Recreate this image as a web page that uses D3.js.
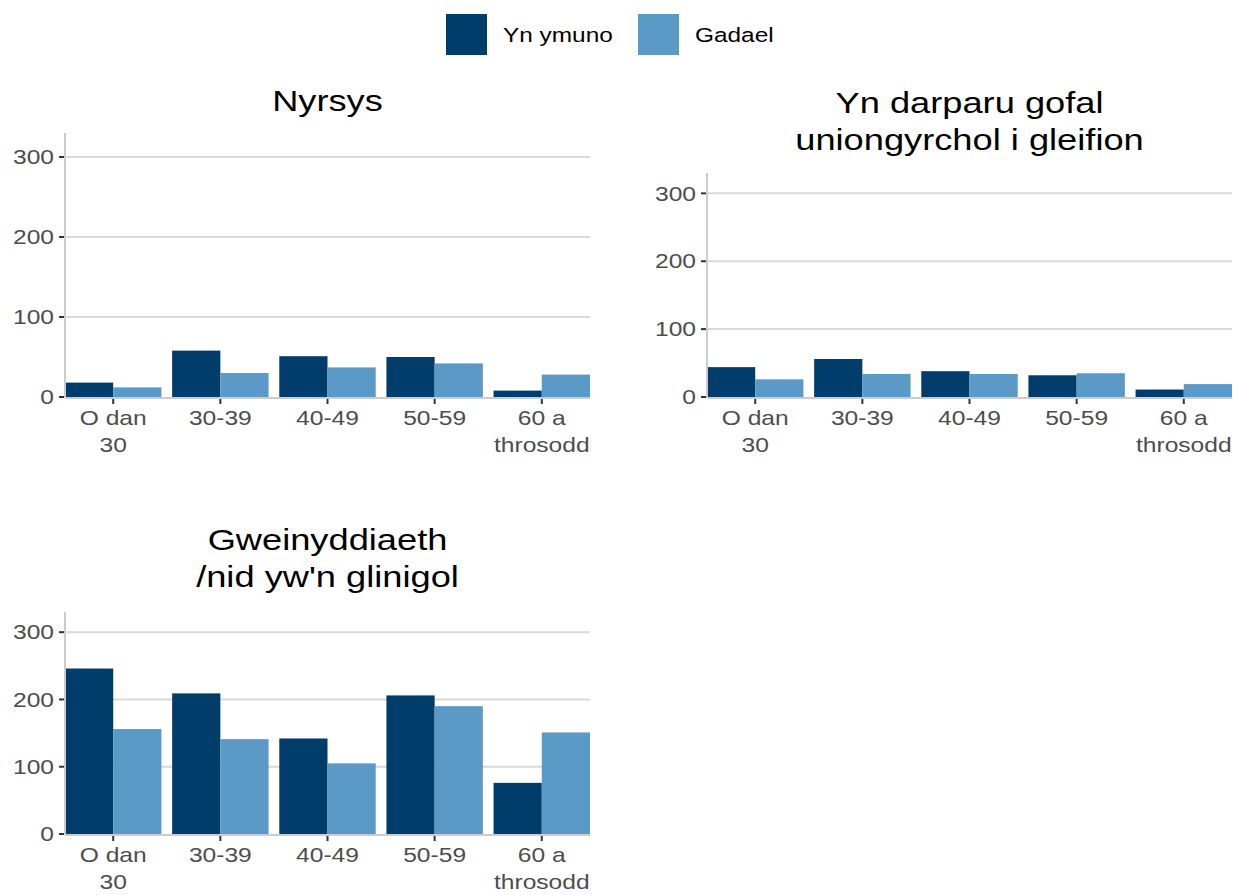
<!DOCTYPE html>
<html>
<head>
<meta charset="utf-8">
<script src="https://cdn.jsdelivr.net/npm/d3@7"></script>
<style>
  body { margin: 0; background: #fff; }
  svg { font-family: "Liberation Sans", Arial, sans-serif; }
</style>
</head>
<body>
<div id="chart"></div>
<script>
var ageGroups = ["O dan 30", "30-39", "40-49", "50-59", "60 a throsodd"];
var series = ["Yn ymuno", "Gadael"];
var colours = ["#013d6b", "#5b9ac7"];
var yTicks = [0, 100, 200, 300];

var nursesJoin = [18, 58, 51, 50, 8];
var nursesLeave = [12, 30, 37, 42, 28];
var directCareJoin = [44, 56, 38, 32, 11];
var directCareLeave = [26, 34, 34, 35, 19];
var adminJoin = [246, 209, 142, 206, 76];
var adminLeave = [156, 141, 105, 190, 151];

var panels = [
  { title: ["Nyrsys"], join: nursesJoin, leave: nursesLeave, left: 65, top: 133, bottom: 397, titleY: [101] },
  { title: ["Yn darparu gofal", "uniongyrchol i gleifion"], join: directCareJoin, leave: directCareLeave, left: 707, top: 173, bottom: 397, titleY: [103, 140] },
  { title: ["Gweinyddiaeth", "/nid yw'n glinigol"], join: adminJoin, leave: adminLeave, left: 65, top: 612, bottom: 834, titleY: [540, 577] }
];

var width = 1233, height = 895;
var plotW = 525;
var stretch = 1.2;   // text in the original is drawn a bit wide

var svg = d3.select("#chart").append("svg")
  .attr("width", width)
  .attr("height", height);

// text helper, stretched horizontally
function wideText(sel, x, y, size, sx) {
  return sel.append("text")
    .attr("transform", "translate(" + x + "," + y + ") scale(" + sx + ",1)")
    .attr("font-size", size);
}

// legend
var legend = svg.append("g").attr("transform", "translate(446,14)");
var legX = [0, 192];
series.forEach(function(s, i) {
  legend.append("rect")
    .attr("x", legX[i]).attr("y", 0)
    .attr("width", 41).attr("height", 41)
    .attr("fill", colours[i]);
  wideText(legend, legX[i] + 57, 21, 20.5, 1.19)
    .attr("dy", "0.35em")
    .attr("fill", "#000")
    .text(s);
});

panels.forEach(function(p) {
  var g = svg.append("g").attr("transform", "translate(" + p.left + ",0)");

  var x = d3.scaleBand()
    .domain(ageGroups)
    .range([0, plotW])
    .paddingInner(0.1)
    .paddingOuter(0);
  var x1 = d3.scaleBand()
    .domain(series)
    .range([0, x.bandwidth()]);
  var y = d3.scaleLinear()
    .domain([0, 330])
    .range([p.bottom, p.top]);

  // grid
  g.selectAll(".grid").data(yTicks.slice(1)).enter()
    .append("line")
    .attr("x1", 0).attr("x2", plotW)
    .attr("y1", function(d) { return y(d); })
    .attr("y2", function(d) { return y(d); })
    .attr("stroke", "#d9d9d9")
    .attr("stroke-width", 2);

  // bars
  var rows = ageGroups.map(function(a, i) {
    return { age: a, values: [p.join[i], p.leave[i]] };
  });
  var grp = g.selectAll(".grp").data(rows).enter()
    .append("g")
    .attr("transform", function(d) { return "translate(" + x(d.age) + ",0)"; });
  grp.selectAll("rect")
    .data(function(d) { return d.values.map(function(v, k) { return { s: series[k], v: v, k: k }; }); })
    .enter().append("rect")
    .attr("x", function(d) { return x1(d.s); })
    .attr("width", x1.bandwidth())
    .attr("y", function(d) { return y(d.v); })
    .attr("height", function(d) { return y(0) - y(d.v); })
    .attr("fill", function(d) { return colours[d.k]; });

  // axis lines
  g.append("line")
    .attr("x1", 0).attr("x2", 0)
    .attr("y1", p.top).attr("y2", p.bottom + 1)
    .attr("stroke", "#cccccc").attr("stroke-width", 2);
  g.append("line")
    .attr("x1", 0).attr("x2", plotW)
    .attr("y1", p.bottom + 1).attr("y2", p.bottom + 1)
    .attr("stroke", "#cccccc").attr("stroke-width", 2);

  // y ticks
  var yt = g.selectAll(".yt").data(yTicks).enter().append("g")
    .attr("transform", function(d) { return "translate(0," + y(d) + ")"; });
  yt.append("line")
    .attr("x1", -6).attr("x2", -1)
    .attr("stroke", "#333").attr("stroke-width", 2);
  yt.each(function(d) {
    wideText(d3.select(this), -11, 0, 20.5, stretch)
      .attr("dy", "0.35em")
      .attr("text-anchor", "end")
      .attr("fill", "#4d4d4d")
      .text(d);
  });

  // x ticks
  var xt = g.selectAll(".xt").data(ageGroups).enter().append("g")
    .attr("transform", function(d) { return "translate(" + (x(d) + x.bandwidth() / 2) + "," + (p.bottom + 2) + ")"; });
  xt.append("line")
    .attr("y1", 0).attr("y2", 5)
    .attr("stroke", "#333").attr("stroke-width", 2);
  xt.each(function(d) {
    var parts = d.indexOf(" ") > 0 ? [d.slice(0, d.lastIndexOf(" ")), d.slice(d.lastIndexOf(" ") + 1)] : [d];
    var t = wideText(d3.select(this), 0, 0, 20.5, stretch)
      .attr("text-anchor", "middle")
      .attr("fill", "#4d4d4d");
    parts.forEach(function(s, i) {
      t.append("tspan").attr("x", 0).attr("y", 26 + i * 27).text(s);
    });
  });

  // title
  p.title.forEach(function(line, i) {
    wideText(g, plotW / 2, p.titleY[i], 29, 1.25)
      .attr("dy", "0.35em")
      .attr("text-anchor", "middle")
      .attr("fill", "#000")
      .text(line);
  });
});
</script>
</body>
</html>
